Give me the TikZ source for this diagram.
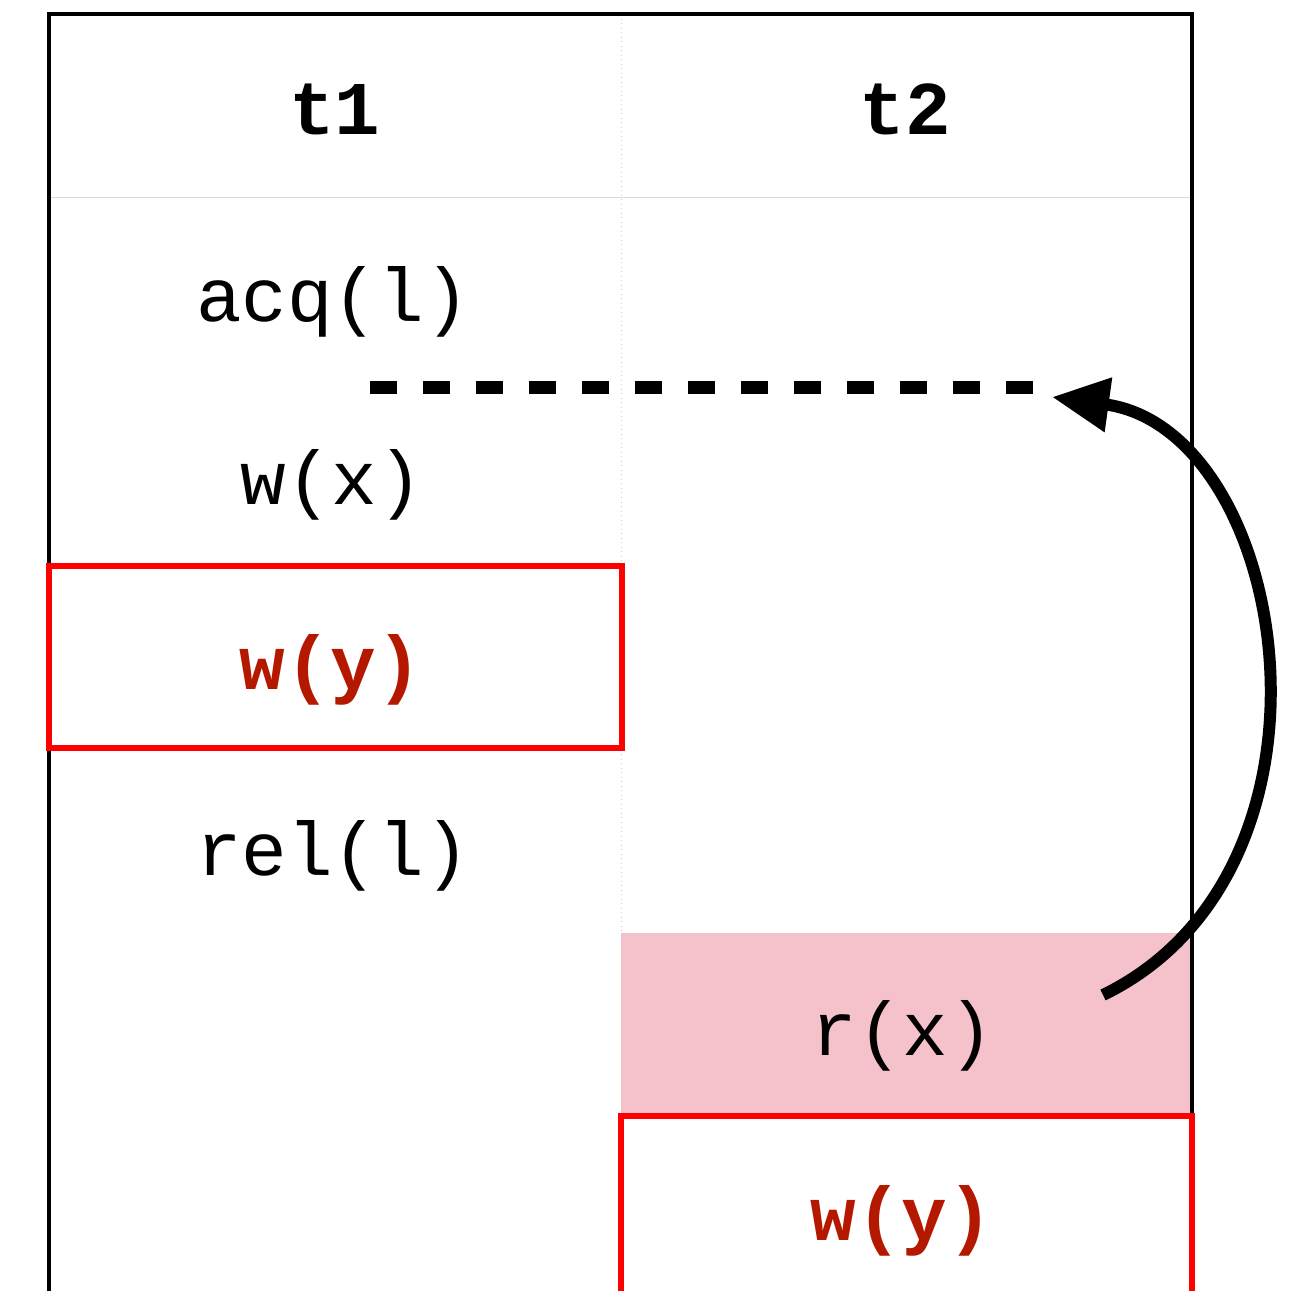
\documentclass[tikz,border=0pt]{standalone}
\usepackage{fontspec}
\setmonofont{Liberation Mono}
\usetikzlibrary{arrows.meta}
\definecolor{opred}{RGB}{180,25,0}
\definecolor{racepink}{RGB}{245,194,204}
\begin{document}
\begin{tikzpicture}
      \clip (0,0) rectangle (12.96,-12.91);
      % racy read
      \fill[racepink] (6.21,-9.33) rectangle (11.90,-11.16);
      % grid
      \draw[gray!30,line width=0.01cm] (0.49,-1.98) -- (11.92,-1.98);
      \draw[gray!40,line width=0.01cm,densely dotted] (6.21,-0.14) -- (6.21,-12.91);
      \draw[line width=0.04cm] (0.49,-13.5) -- (0.49,-0.14) -- (11.92,-0.14) -- (11.92,-13.5);
      % conflicting writes
      \begin{scope}[every path/.style={draw=red,line width=0.06cm}]
      \path (0.49,-5.66) rectangle (6.22,-7.48);
      \path (6.21,-11.16) rectangle (11.92,-13.5);
      \end{scope}
      \begin{scope}[every node/.style={anchor=base,font=\ttfamily\fontsize{21.6}{26}\selectfont}]
      \node (t1) at (3.35,-1.35) {\bfseries t1};
      \node (t2) at (9.05,-1.35) {\bfseries t2};
      \node (acq) at (3.33,-3.22) {acq(l)};
      \node (wx) at (3.32,-5.05) {w(x)};
      \node[text=opred] (wya) at (3.31,-6.90) {\bfseries w(y)};
      \node (rel) at (3.33,-8.75) {rel(l)};
      \node (rx) at (9.03,-10.55) {r(x)};
      \node[text=opred] (wyb) at (9.02,-12.40) {\bfseries w(y)};
      \end{scope}
      % lock edge
      \coordinate (sync) at (3.70,-3.88);
      \coordinate (syncend) at (10.40,-3.88);
      \coordinate (src) at (11.03,-9.95);
      \coordinate (dst) at (10.52,-3.97);
      \draw[line width=0.13cm,dash pattern=on 0.27cm off 0.26cm] (sync) -- (syncend);
      \draw[line width=0.12cm,-{Triangle[length=0.57cm,width=0.52cm]}]
        (src) .. controls (13.60,-8.70) and (12.90,-4.30) .. (dst);
\end{tikzpicture}
\end{document}
